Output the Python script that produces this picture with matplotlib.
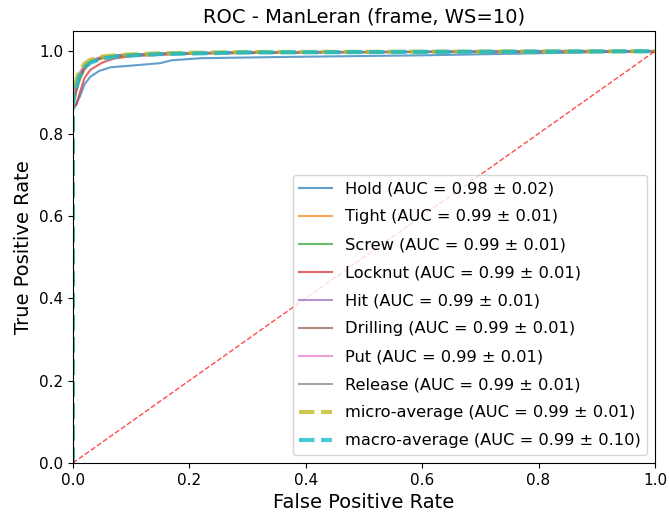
import numpy as np
import matplotlib.pyplot as plt

# ROC points (FPR, TPR) per class
classes = ['Hold', 'Tight', 'Screw', 'Locknut', 'Hit', 'Drilling', 'Put', 'Release']
auc_mean = [0.98, 0.99, 0.99, 0.99, 0.99, 0.99, 0.99, 0.99]
auc_std = [0.02, 0.01, 0.01, 0.01, 0.01, 0.01, 0.01, 0.01]

fpr_hold = [0.0, 0.0, 0.005, 0.012, 0.02, 0.03, 0.045, 0.065, 0.1, 0.15, 0.17, 0.22, 0.36, 0.6, 1.0]
tpr_hold = [0.0, 0.86, 0.87, 0.89, 0.92, 0.938, 0.952, 0.961, 0.965, 0.971, 0.978, 0.983, 0.986, 0.99, 1.0]

fpr_tight = [0.0, 0.0, 0.005, 0.012, 0.02, 0.03, 0.05, 0.065, 0.1, 0.15, 0.3, 0.5, 1.0]
tpr_tight = [0.0, 0.87, 0.9, 0.93, 0.955, 0.972, 0.982, 0.986, 0.99, 0.994, 0.997, 0.998, 1.0]

fpr_screw = [0.0, 0.0, 0.005, 0.012, 0.02, 0.03, 0.05, 0.08, 0.12, 0.2, 0.4, 1.0]
tpr_screw = [0.0, 0.87, 0.9, 0.935, 0.96, 0.974, 0.984, 0.989, 0.992, 0.995, 0.998, 1.0]

fpr_locknut = [0.0, 0.0, 0.006, 0.012, 0.02, 0.03, 0.05, 0.07, 0.1, 0.2, 0.4, 1.0]
tpr_locknut = [0.0, 0.86, 0.87, 0.9, 0.935, 0.955, 0.972, 0.982, 0.988, 0.994, 0.997, 1.0]

fpr_hit = [0.0, 0.0, 0.004, 0.01, 0.02, 0.03, 0.05, 0.08, 0.15, 0.3, 1.0]
tpr_hit = [0.0, 0.88, 0.91, 0.94, 0.965, 0.976, 0.986, 0.99, 0.994, 0.997, 1.0]

fpr_drilling = [0.0, 0.0, 0.005, 0.01, 0.02, 0.03, 0.05, 0.08, 0.15, 0.3, 1.0]
tpr_drilling = [0.0, 0.87, 0.9, 0.93, 0.96, 0.973, 0.984, 0.99, 0.994, 0.997, 1.0]

fpr_put = [0.0, 0.0, 0.004, 0.01, 0.02, 0.03, 0.05, 0.08, 0.15, 0.3, 1.0]
tpr_put = [0.0, 0.88, 0.91, 0.945, 0.967, 0.978, 0.987, 0.991, 0.995, 0.998, 1.0]

fpr_release = [0.0, 0.0, 0.005, 0.01, 0.02, 0.03, 0.05, 0.08, 0.15, 0.3, 1.0]
tpr_release = [0.0, 0.87, 0.9, 0.935, 0.962, 0.975, 0.985, 0.99, 0.994, 0.997, 1.0]

fpr_micro = [0.0, 0.0, 0.004, 0.01, 0.02, 0.03, 0.05, 0.08, 0.15, 0.3, 1.0]
tpr_micro = [0.0, 0.88, 0.92, 0.95, 0.97, 0.979, 0.987, 0.991, 0.995, 0.998, 1.0]
micro_auc = (0.99, 0.01)

fpr_macro = [0.0, 0.0, 0.004, 0.01, 0.02, 0.03, 0.05, 0.08, 0.15, 0.3, 1.0]
tpr_macro = [0.0, 0.87, 0.9, 0.935, 0.96, 0.972, 0.982, 0.988, 0.993, 0.997, 1.0]
macro_auc = (0.99, 0.10)

fprs = [fpr_hold, fpr_tight, fpr_screw, fpr_locknut, fpr_hit, fpr_drilling, fpr_put, fpr_release]
tprs = [tpr_hold, tpr_tight, tpr_screw, tpr_locknut, tpr_hit, tpr_drilling, tpr_put, tpr_release]
colors = ['tab:blue', 'tab:orange', 'tab:green', 'tab:red',
          'tab:purple', 'tab:brown', 'tab:pink', 'tab:gray']

fig = plt.figure(figsize=(6.69, 5.19), dpi=100)
ax = fig.add_axes([0.109, 0.108, 0.870, 0.833])

for name, f, t, m, s, c in zip(classes, fprs, tprs, auc_mean, auc_std, colors):
    ax.plot(f, t, color=c, lw=1.5, alpha=0.7,
            label='%s (AUC = %.2f ± %.2f)' % (name, m, s))

ax.plot(fpr_micro, tpr_micro, color='#bcbd22', lw=3, ls='--', alpha=0.8,
        label='micro-average (AUC = %.2f ± %.2f)' % micro_auc)
ax.plot(fpr_macro, tpr_macro, color='#17becf', lw=3, ls='--', alpha=0.8,
        label='macro-average (AUC = %.2f ± %.2f)' % macro_auc)

# chance line
ax.plot([0, 1], [0, 1], color='red', lw=1, ls='--', alpha=0.7)

ax.set_xlim(0.0, 1.0)
ax.set_ylim(0.0, 1.05)
ax.tick_params(labelsize=11)
ax.set_xlabel('False Positive Rate', fontsize=14)
ax.set_ylabel('True Positive Rate', fontsize=14)
ax.set_title('ROC - ManLeran (frame, WS=10)', fontsize=14)
ax.legend(loc='lower right', fontsize=11.7, handlelength=2.0, labelspacing=0.8)

fig.savefig('out.png', dpi=100)
